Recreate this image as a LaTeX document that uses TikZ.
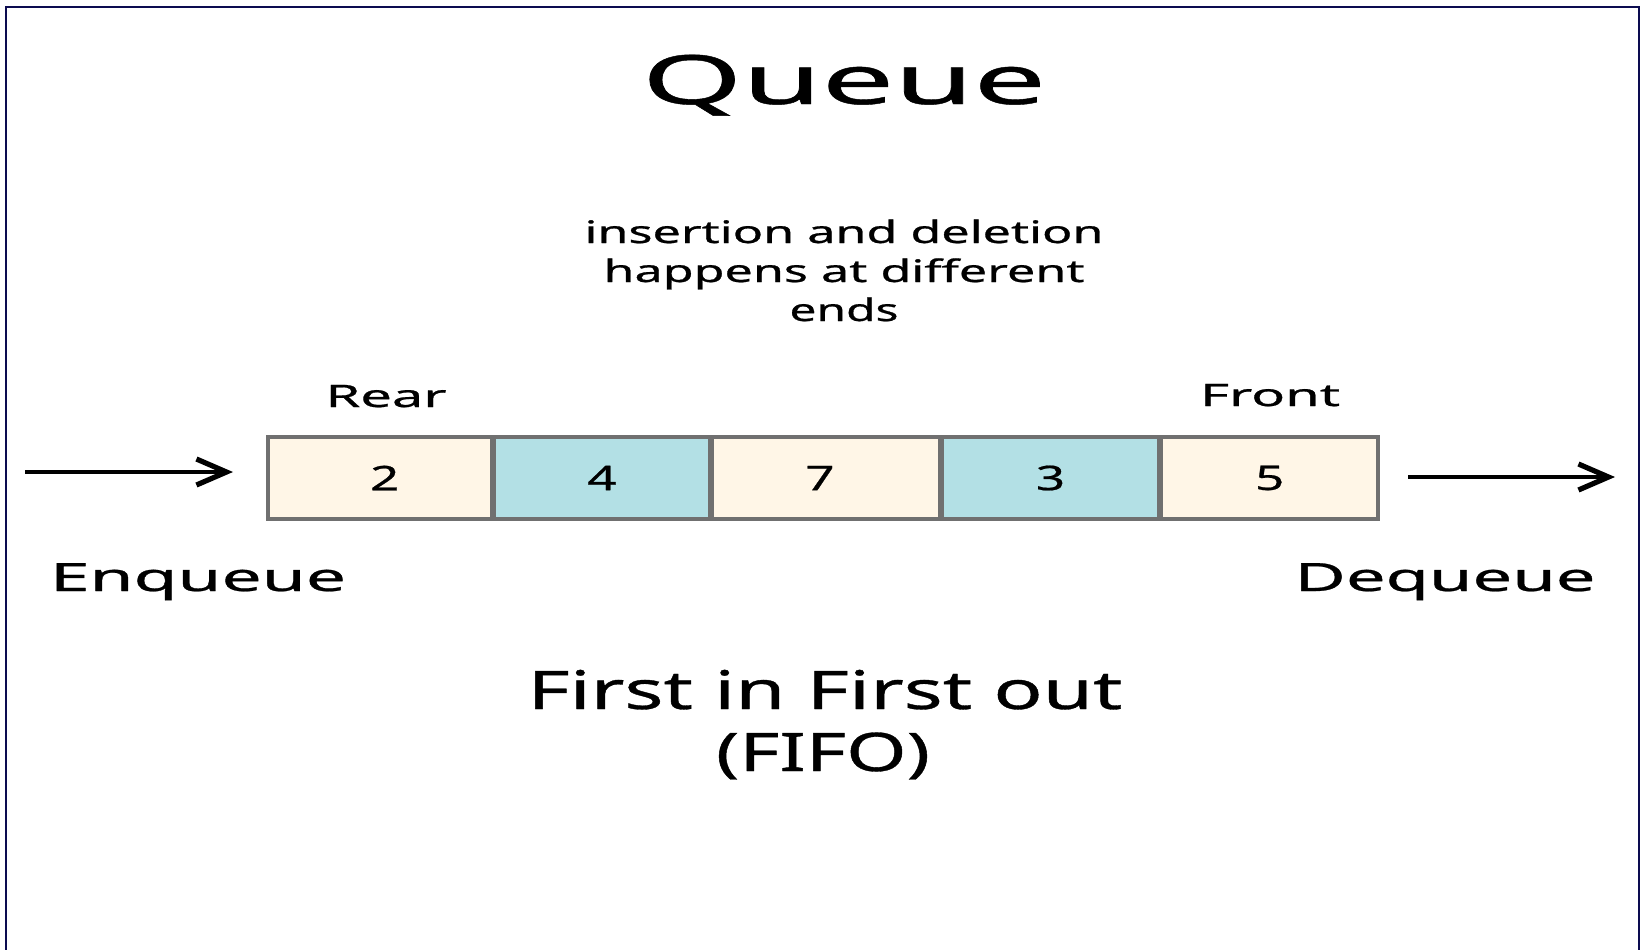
\documentclass[tikz,border=0pt]{standalone}
\usepackage{fontspec}
\setmainfont{Noto Sans}[FakeBold=0.6]
\usetikzlibrary{arrows.meta}
\definecolor{framecol}{RGB}{12,12,80}
\definecolor{cellcream}{RGB}{255,246,231}
\definecolor{cellteal}{RGB}{179,224,229}
\definecolor{cellgray}{RGB}{112,112,112}
\newcommand\fitw[2]{\resizebox{#1}{\height}{#2}}
\begin{document}
\begin{tikzpicture}[x=0.5pt,y=-0.5pt,
  txt/.style={inner sep=0pt, anchor=base},
  body/.style={txt, font=\fontsize{15.5}{18}\selectfont},
  big/.style={txt, font=\fontsize{19.5}{23}\selectfont},
  huge/.style={txt, font=\fontsize{26.6}{30}\selectfont},
  cell/.style={draw=cellgray, line width=1.6pt, minimum height=41pt, inner sep=0pt,
    font=\fontsize{17}{20}\selectfont},
  cream/.style={cell, fill=cellcream},
  blue/.style={cell, fill=cellteal},
  arr/.style={line width=2.4pt, -{Straight Barb[length=15pt,width=13pt,line width=2.6pt]}},
  frame/.style={draw=framecol, line width=1.4pt}]
\useasboundingbox (0,0) rectangle (1644,949);
\draw[frame] (6,980) -- (6,7) -- (1639,7) -- (1639,980);

\node[txt, font=\fontsize{34}{40}\selectfont] (title) at (844,104) {\fitw{202pt}{Queue}};

\node[body] (l1) at (844,243) {\fitw{259.5pt}{insertion and deletion}};
\node[body] (l2) at (844,282) {\fitw{240.5pt}{happens at different}};
\node[body] (l3) at (844,321) {\fitw{54.5pt}{ends}};

\node[body] (rear) at (386,407) {\fitw{60.5pt}{Rear}};
\node[body] (front) at (1270,406) {\fitw{70pt}{Front}};

\node[cream, minimum width=111.75pt] (c1) at (379.75,478) {\hspace*{5pt}\scalebox{1.5}[1]{2}};
\node[blue,  minimum width=107.5pt]  (c2) at (602,478)    {\scalebox{1.5}[1]{4}};
\node[cream, minimum width=113.5pt]  (c3) at (826,478)    {\scalebox{1.5}[1]{7}\hspace*{6pt}};
\node[blue,  minimum width=108pt]    (c4) at (1050.5,478) {\scalebox{1.5}[1]{3}};
\node[cream, minimum width=108.25pt] (c5) at (1269.75,478){\scalebox{1.5}[1]{5}};

\coordinate (inS) at (25,472);
\coordinate (inE) at (233,472);
\coordinate (outS) at (1408,477);
\coordinate (outE) at (1615,477);
\draw[arr] (inS) -- (inE);
\draw[arr] (outS) -- (outE);

\node[big] (enq) at (198,591) {\fitw{148pt}{Enqueue}};
\node[big] (deq) at (1445,591) {\fitw{150.5pt}{Dequeue}};

\node[huge] (f1) at (825,709) {\fitw{297.5pt}{First in First out}};
\node[huge] (f2) at (823,771) {\fitw{107pt}{(FIFO)}};
\end{tikzpicture}
\end{document}
